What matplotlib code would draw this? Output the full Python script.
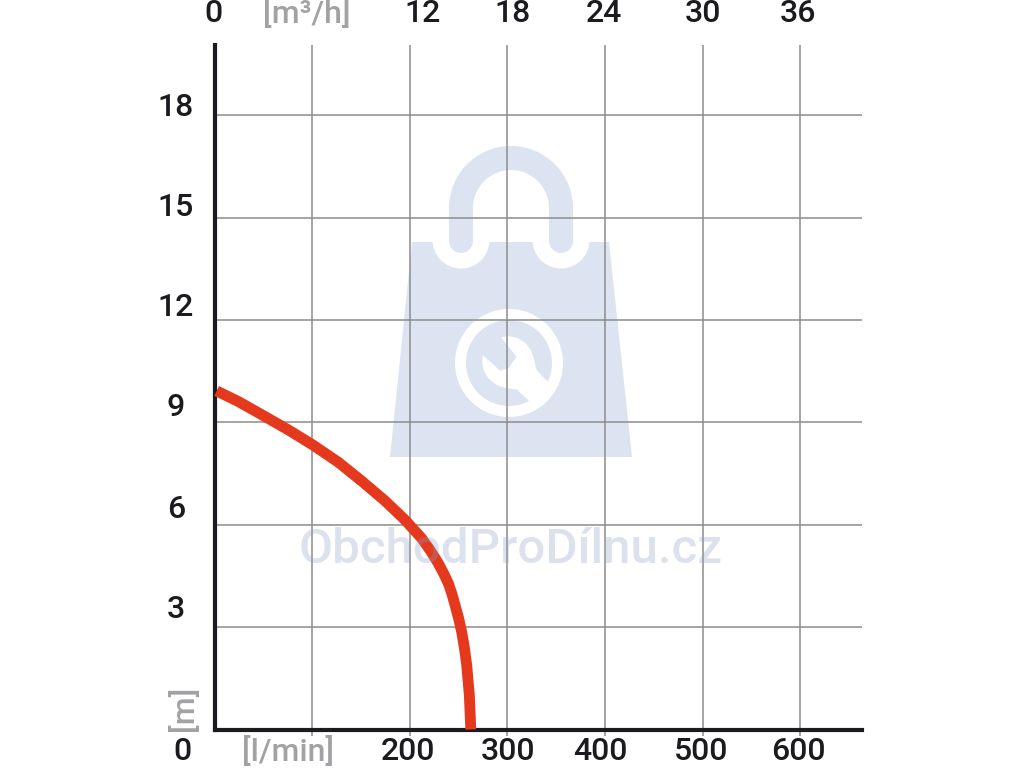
import numpy as np
import matplotlib
matplotlib.use("Agg")
import matplotlib.pyplot as plt
from matplotlib.patches import Polygon, Circle, Rectangle

# flow [l/min] vs head [m]
flow = [2.2, 24.4, 51.7, 75.6, 100.6, 126.9, 150.8, 174.7, 195.2, 212.3, 221.0, 229.3, 235.0, 239.6, 243.2, 246.4, 250.0, 253.2, 256.0, 258.4, 261.1, 262.6]
head = [9.92, 9.61, 9.17, 8.78, 8.34, 7.83, 7.28, 6.70, 6.14, 5.60, 5.25, 4.87, 4.56, 4.28, 3.98, 3.65, 3.27, 2.87, 2.40, 1.89, 1.01, 0.0]

x_grid = [100, 200, 300, 400, 500, 600]
y_grid = [3, 6, 9, 12, 15, 18]

# labels sit off their grid lines in the original, so they get their own pixel spots
top_labels = ["0", "[m³/h]", "12", "18", "24", "30", "36"]
top_x = [213, 307, 423, 513, 604, 703, 798]
bottom_labels = ["0", "[l/min]", "200", "300", "400", "500", "600"]
bottom_x = [182, 288, 408, 508, 600, 701, 798]
left_labels = ["18", "15", "12", "9", "6", "3"]
left_y = [107, 207, 307, 408, 509, 609]

DARK = "#1b1b1f"
GREY = "#a2a2a4"
GRID = "#8c8c8c"
WM = "#dce4f1"

plt.rcParams["font.family"] = ["Roboto", "DejaVu Sans"]

fig = plt.figure(figsize=(10.24, 7.68), dpi=100, facecolor="white")

# background layer in pixel coords, holds the watermark bag
bg = fig.add_axes([0, 0, 1, 1], zorder=0)
bg.set_xlim(0, 1024)
bg.set_ylim(768, 0)
bg.axis("off")

bg.add_patch(Polygon([(390, 457), (412, 242), (609, 242), (632, 457)], fc=WM, ec="none"))
for cx in (461, 561):
    bg.add_patch(Circle((cx, 240), 28.5, fc="white", ec="none"))
    bg.add_patch(Rectangle((cx - 30, 210), 60, 32, fc="white", ec="none"))
theta = np.linspace(np.pi, 0, 60)
hx = np.r_[461, 511 + 50 * np.cos(theta), 561]
hy = np.r_[241, 208 - 50 * np.sin(theta), 241]
bg.plot(hx, hy, color=WM, lw=17.3, solid_capstyle="round")

bg.add_patch(Circle((509, 363), 54, fc="white", ec="none"))
bg.add_patch(Circle((509, 363), 43, fc=WM, ec="none"))
wrench = [(168, 112), (190, 108), (215, 113), (240, 127), (258, 150), (267, 178), (275, 210),
          (312, 250), (295, 280), (255, 305), (233, 285), (215, 268), (185, 265), (155, 255),
          (130, 235), (115, 210), (112, 190), (113, 165), (165, 212), (190, 205), (215, 170)]
bg.add_patch(Polygon([(445 + a / 3, 300 + b / 3) for a, b in wrench], fc="white", ec="none"))

# main chart
L, R, T, B = 214.5, 862, 45, 729.5
ax = fig.add_axes([L / 1024, (768 - B) / 768, (R - L) / 1024, (B - T) / 768], zorder=1)
ax.patch.set_alpha(0)
ax.set_xlim(0, (R - L) / 0.976)
ax.set_ylim(0, (B - T) / 34.13)
ax.set_xticks(x_grid)
ax.set_yticks(y_grid)
ax.set_xticklabels([])
ax.set_yticklabels([])
ax.tick_params(axis="x", length=4, width=1.1, color=GRID, direction="out")
ax.tick_params(axis="y", length=0)
ax.grid(True, color=GRID, lw=1.1)
ax.set_axisbelow(True)
for s in ("top", "right"):
    ax.spines[s].set_visible(False)
for s in ("left", "bottom"):
    ax.spines[s].set_color(DARK)
    ax.spines[s].set_linewidth(3)
ax.plot(flow, head, color="#e4391c", lw=7.8, solid_capstyle="butt", solid_joinstyle="round", clip_on=False, zorder=3)

# top layer: text
fg = fig.add_axes([0, 0, 1, 1], zorder=2)
fg.set_xlim(0, 1024)
fg.set_ylim(768, 0)
fg.axis("off")

kw = dict(ha="center", va="center", fontsize=23, fontweight="medium")
for t, x in zip(top_labels, top_x):
    fg.text(x, 14, t, color=GREY if "[" in t else DARK, **kw)
for t, x in zip(bottom_labels, bottom_x):
    fg.text(x, 752, t, color=GREY if "[" in t else DARK, **kw)
for t, y in zip(left_labels, left_y):
    fg.text(176, y, t, color=DARK, **kw)
fg.text(183, 708, "[m]", color=GREY, rotation=90, **kw)

# see-through so the curve and grid show under it
fg.text(511, 550, "ObchodProDílnu.cz", color="#8aa0c8", alpha=0.3, ha="center", va="center",
        fontsize=35.5, fontweight="medium")

fig.savefig("out.png", dpi=100)
